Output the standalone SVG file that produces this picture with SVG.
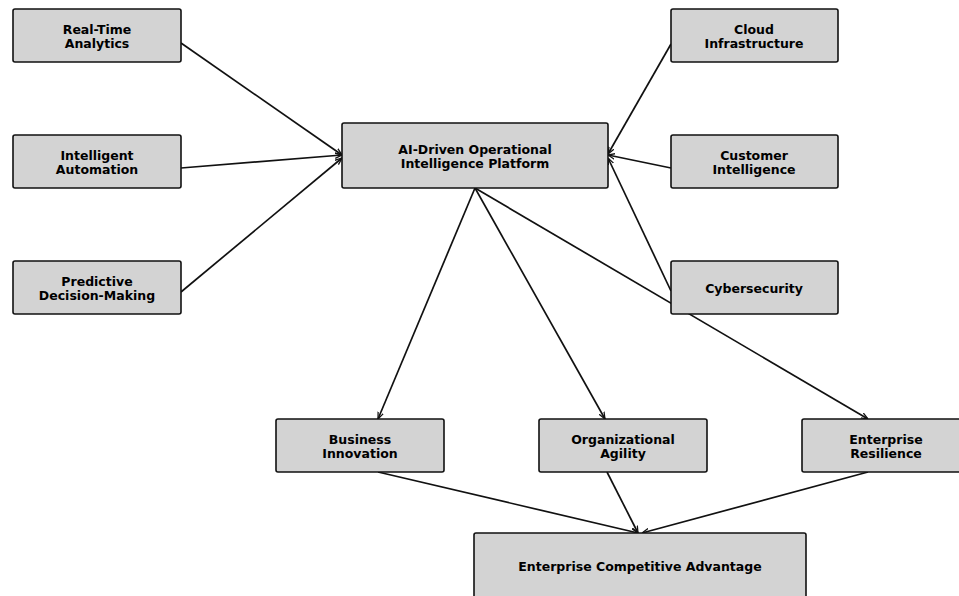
<svg xmlns="http://www.w3.org/2000/svg" width="959" height="596" viewBox="0 0 959 596">
  <style>
    .box { fill: #d3d3d3; stroke: #111; stroke-width: 1.6; }
    .lbl { font-family: "DejaVu Sans", "Liberation Sans", sans-serif; font-weight: bold; font-size: 12.5px; fill: #000; text-anchor: middle; }
    .edge { stroke: #111; stroke-width: 1.7; fill: none; marker-end: url(#arrow); }
  </style>
  <defs>
    <marker id="arrow" viewBox="0 0 10 10" refX="10" refY="5" markerWidth="7" markerHeight="7" markerUnits="userSpaceOnUse" orient="auto">
      <path d="M0,1 L10,5 L0,9" fill="none" stroke="#111" stroke-width="1.8"/>
    </marker>
  </defs>
  <rect width="959" height="596" fill="#fff"/>

  <g id="connectors">
    <line class="edge" x1="181" y1="43" x2="342" y2="155"/>
    <line class="edge" x1="181" y1="168" x2="342" y2="155"/>
    <line class="edge" x1="181" y1="292" x2="342" y2="158"/>
    <line class="edge" x1="671" y1="44" x2="608" y2="154"/>
    <line class="edge" x1="671" y1="168" x2="608" y2="155"/>
    <line class="edge" x1="671" y1="291" x2="608" y2="158"/>
    <line class="edge" x1="475" y1="188" x2="378" y2="419"/>
    <line class="edge" x1="475" y1="188" x2="605" y2="419"/>
    <line class="edge" x1="475" y1="188" x2="868" y2="419"/>
    <line class="edge" x1="378" y1="472" x2="638" y2="533"/>
    <line class="edge" x1="607" y1="472" x2="638" y2="533"/>
    <line class="edge" x1="868" y1="472" x2="642" y2="533"/>
  </g>

  <g id="real-time-analytics">
    <rect class="box" x="13" y="9" width="168" height="53" rx="2"/>
    <text class="lbl" x="97" y="34">Real-Time</text>
    <text class="lbl" x="97" y="48">Analytics</text>
  </g>
  <g id="intelligent-automation">
    <rect class="box" x="13" y="135" width="168" height="53" rx="2"/>
    <text class="lbl" x="97" y="160">Intelligent</text>
    <text class="lbl" x="97" y="174">Automation</text>
  </g>
  <g id="predictive-decision-making">
    <rect class="box" x="13" y="261" width="168" height="53" rx="2"/>
    <text class="lbl" x="97" y="286">Predictive</text>
    <text class="lbl" x="97" y="300">Decision-Making</text>
  </g>
  <g id="ai-platform">
    <rect class="box" x="342" y="123" width="266" height="65" rx="2"/>
    <text class="lbl" x="475" y="154">AI-Driven Operational</text>
    <text class="lbl" x="475" y="168">Intelligence Platform</text>
  </g>
  <g id="cloud-infrastructure">
    <rect class="box" x="671" y="9" width="167" height="53" rx="2"/>
    <text class="lbl" x="754" y="34">Cloud</text>
    <text class="lbl" x="754" y="48">Infrastructure</text>
  </g>
  <g id="customer-intelligence">
    <rect class="box" x="671" y="135" width="167" height="53" rx="2"/>
    <text class="lbl" x="754" y="160">Customer</text>
    <text class="lbl" x="754" y="174">Intelligence</text>
  </g>
  <g id="cybersecurity">
    <rect class="box" x="671" y="261" width="167" height="53" rx="2"/>
    <text class="lbl" x="754" y="293">Cybersecurity</text>
  </g>
  <g id="business-innovation">
    <rect class="box" x="276" y="419" width="168" height="53" rx="2"/>
    <text class="lbl" x="360" y="444">Business</text>
    <text class="lbl" x="360" y="458">Innovation</text>
  </g>
  <g id="organizational-agility">
    <rect class="box" x="539" y="419" width="168" height="53" rx="2"/>
    <text class="lbl" x="623" y="444">Organizational</text>
    <text class="lbl" x="623" y="458">Agility</text>
  </g>
  <g id="enterprise-resilience">
    <rect class="box" x="802" y="419" width="168" height="53" rx="2"/>
    <text class="lbl" x="886" y="444">Enterprise</text>
    <text class="lbl" x="886" y="458">Resilience</text>
  </g>
  <g id="competitive-advantage">
    <rect class="box" x="474" y="533" width="332" height="70" rx="2"/>
    <text class="lbl" x="640" y="571">Enterprise Competitive Advantage</text>
  </g>
</svg>
